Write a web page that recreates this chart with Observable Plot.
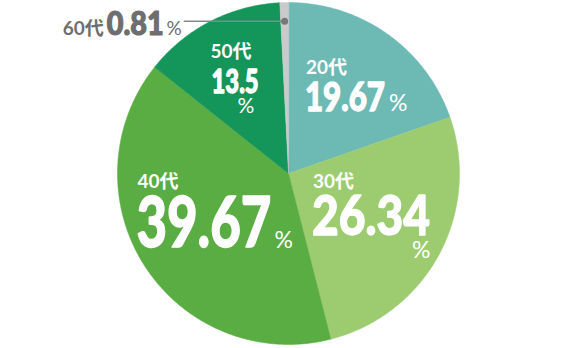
<!DOCTYPE html>
<html>
<head>
<meta charset="utf-8">
<script src="https://cdn.jsdelivr.net/npm/d3@7"></script>
<script src="https://cdn.jsdelivr.net/npm/@observablehq/plot@0.6"></script>
<style>
  html, body { margin: 0; padding: 0; background: #fff; }
  #chart { width: 582px; height: 348px; }
</style>
</head>
<body>
<div id="chart"></div>
<script>
// 年代別の構成比（%）
const ages = ["20代", "30代", "40代", "50代", "60代"];
const shares = [19.67, 26.34, 39.67, 13.5, 0.81];
const colors = ["#6dbab4", "#9dcc70", "#5aad42", "#14955a", "#cacaca"];

// wedge angles, clockwise from 12 o'clock
const slices = d3.pie().sort(null).value(d => d.share)(
  ages.map((age, i) => ({age, share: shares[i]}))
).map(p => ({
  age: p.data.age,
  share: p.data.share,
  a0: p.startAngle,
  a1: p.endAngle,
  mid: (p.startAngle + p.endAngle) / 2
}));

// polygon outline of each wedge, sampled along its arc
const outline = slices.flatMap(s => {
  const n = Math.max(2, Math.ceil((s.a1 - s.a0) / 0.01));
  const pts = [{age: s.age, x: 0, y: 0}];
  for (let k = 0; k <= n; ++k) {
    const a = s.a0 + (s.a1 - s.a0) * k / n;
    pts.push({age: s.age, x: Math.sin(a), y: Math.cos(a)});
  }
  return pts;
});

const polar = (s, r) => ({...s, x: r * Math.sin(s.mid), y: r * Math.cos(s.mid)});

const font = "Lato, 'Noto Sans CJK JP', sans-serif";

// in-wedge labels: anchor radius, then [dx, dy, size] for the age and % sign,
// [dx, dy, size, set width] for the condensed figure
const inside = [
  {age: "20代", r: 0.6, head: [-42, -16, 19], num: [-43, 21, 39, 80], pct: [41, 21, 23]},
  {age: "30代", r: 0.6, head: [-66, -34, 19], num: [-67, 13, 56, 118], pct: [33, 36, 23]},
  {age: "40代", r: 0.6, head: [-65, -41, 19], num: [-66, 18, 70, 135], pct: [72, 19, 23]},
  {age: "50代", r: 0.6, head: [-31, -24, 19], num: [-30, 11, 32, 47], pct: [-4, 31, 21]}
];
const outside = {age: "60代", r: 0.89, leader: 0.59, head: [-80, 14, 19], num: [-20, 14, 33, 57], pct: [-2, 14, 19]};

const figureWidths = new Map();

const labelMarks = inside.flatMap(l => {
  const s = polar(slices.find(d => d.age === l.age), l.r);
  const piece = (text, [dx, dy, size], weight, halo) => Plot.text([s], {
    x: "x", y: "y", text: () => text, dx, dy,
    fontSize: size, fontWeight: weight, fontFamily: font,
    fill: "white", stroke: halo ? "white" : "none", strokeWidth: halo ? 1.3 : 0,
    textAnchor: "start", lineAnchor: "bottom"
  });
  figureWidths.set(String(s.share), l.num[3]);
  return [
    piece(s.age, l.head, 700, false),
    piece(String(s.share), l.num, 900, true),
    piece("%", l.pct, 400, false)
  ];
});

// small wedge: dot on the wedge with a leader out to the left
const tiny = slices.find(d => d.age === outside.age);
const dot = polar(tiny, outside.r);
const leaderEnd = {...dot, x: dot.x - outside.leader};
const outsidePiece = (text, [dx, dy, size], weight, halo) => Plot.text([leaderEnd], {
  x: "x", y: "y", text: () => text, dx, dy,
  fontSize: size, fontWeight: weight, fontFamily: font,
  fill: "#6e6e6e", stroke: halo ? "#6e6e6e" : "none", strokeWidth: halo ? 1.2 : 0,
  textAnchor: "end", lineAnchor: "bottom"
});
figureWidths.set(String(tiny.share), outside.num[3]);

const chart = Plot.plot({
  width: 582,
  height: 348,
  marginLeft: 117,
  marginRight: 123,
  marginTop: 2,
  marginBottom: 4,
  x: {domain: [-1, 1], axis: null},
  y: {domain: [-1, 1], axis: null},
  color: {domain: ages, range: colors},
  marks: [
    Plot.line(outline, {x: "x", y: "y", z: "age", fill: "age", stroke: "age", strokeWidth: 0.5, curve: "linear-closed"}),
    Plot.link([dot], {x1: "x", y1: "y", x2: d => d.x - outside.leader, y2: "y", stroke: "#888", strokeWidth: 1.5}),
    Plot.dot([dot], {x: "x", y: "y", r: 3.5, fill: "#777", stroke: "none"}),
    outsidePiece("%", outside.pct, 400, false),
    outsidePiece(String(tiny.share), outside.num, 900, true),
    outsidePiece(tiny.age, outside.head, 700, false),
    ...labelMarks
  ]
});

document.getElementById("chart").appendChild(chart);

// the big figures are set in a condensed cut: squeeze each numeral run to its set width
d3.select(chart).selectAll("text").each(function() {
  const w = figureWidths.get(this.textContent);
  if (w) {
    this.setAttribute("textLength", w);
    this.setAttribute("lengthAdjust", "spacingAndGlyphs");
  }
});
</script>
</body>
</html>
